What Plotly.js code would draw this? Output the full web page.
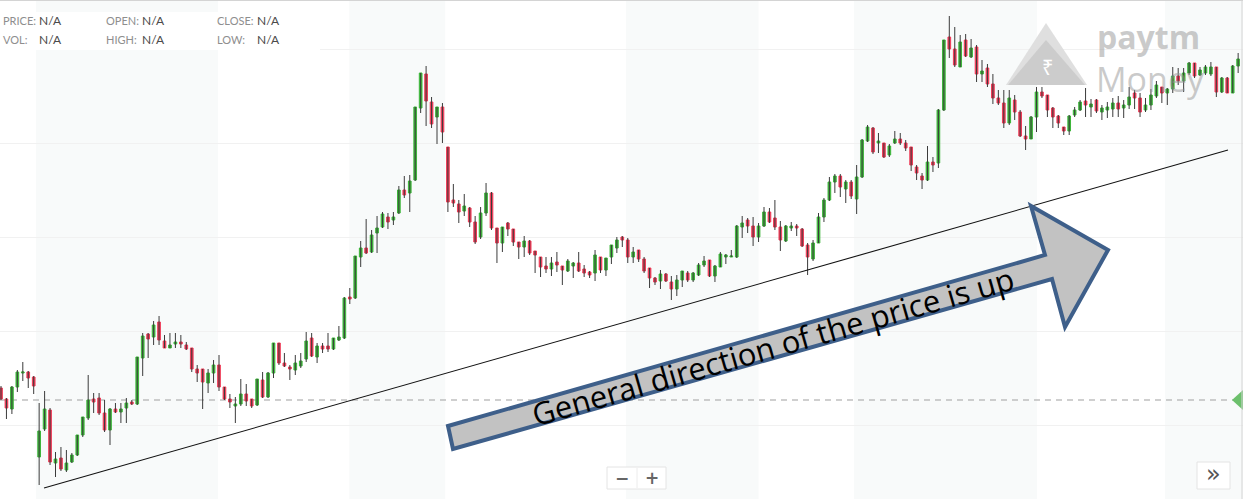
<!DOCTYPE html>
<html>
<head>
<meta charset="utf-8">
<script src="https://cdn.plot.ly/plotly-3.0.1.min.js"></script>
<style>
html,body{margin:0;padding:0;background:#fff;overflow:hidden}
#chart{width:1243px;height:499px}
</style>
</head>
<body>
<div id="chart"></div>
<script>
// ---- Data (price in chart points, one candle per session) ----
const openP = [
112,101,91,113,127,128,123,43,71,90,
37,42,30,38,45,65,82,101,102,87,
70,91,88,92,98,96,142,166,163,178,
159,152,156,158,155,152,131,131,117,127,
135,113,101,94,96,106,101,95,120,103,
127,157,137,133,130,134,141,162,143,154,
154,151,160,162,203,202,243,252,248,267,
273,283,280,287,310,307,320,392,426,398,
383,393,353,300,296,289,292,278,263,287,
307,272,257,277,271,258,253,259,249,243,
234,231,238,234,229,234,237,231,228,227,
243,230,243,252,263,260,243,250,241,232,
222,219,226,218,211,220,227,220,225,235,
240,224,233,243,243,243,273,280,274,263,
274,288,282,273,259,272,274,271,255,241,
257,283,300,318,324,311,318,301,323,359,
372,357,357,345,357,361,357,353,333,324,
320,338,337,390,463,451,433,460,443,453,
426,432,416,402,397,377,400,388,364,361,
383,408,405,392,384,373,369,385,390,399,
393,400,388,390,391,397,392,395,407,402,
390,395,404,413,407,411,424,419,427,437,
425,427,426,433,408,422,407,434
];
const highP = [
114,102,114,130,138,129,124,97,109,92,
48,53,50,47,65,83,125,107,107,100,
92,97,97,102,100,143,167,167,179,184,
165,167,167,165,158,152,135,131,131,140,
145,113,106,103,121,116,101,121,128,128,
157,157,147,135,145,147,168,167,157,157,
167,162,174,203,212,244,259,281,270,284,
288,287,288,314,324,325,393,427,434,403,
393,397,353,316,300,306,293,284,293,317,
308,272,273,278,271,258,264,260,249,243,
243,243,248,234,241,238,248,235,229,250,
243,242,255,263,264,262,253,250,243,232,
223,230,227,224,225,229,229,228,237,244,
240,235,248,246,250,275,284,282,283,277,
293,292,300,279,275,278,276,272,257,260,
287,302,323,326,326,320,320,335,361,375,
373,367,357,356,369,367,360,353,335,327,
354,343,391,460,484,473,465,466,461,455,
440,436,426,410,410,410,405,390,374,384,
413,413,405,393,385,373,385,393,400,412,
401,401,395,398,402,404,400,413,410,407,
402,411,419,413,412,433,432,432,438,437,
433,435,438,433,423,423,435,447
];
const lowP = [
100,81,86,108,119,112,106,15,69,35,
23,29,28,37,44,63,80,87,85,68,
55,87,77,77,95,95,124,142,155,155,
152,152,152,152,150,128,118,91,107,117,
109,100,92,77,94,94,92,94,102,102,
122,135,133,120,125,132,138,143,137,147,
148,150,159,161,196,201,233,246,247,247,
272,271,275,286,302,288,319,387,374,372,
356,357,288,293,277,284,273,256,261,284,
270,237,248,264,254,241,243,245,227,223,
227,224,228,215,228,222,228,223,222,219,
227,224,236,247,253,237,237,238,227,212,
215,211,218,200,204,213,218,218,224,233,
223,218,233,236,243,242,262,267,254,258,
273,277,270,249,258,269,264,253,225,239,
257,278,299,307,303,297,301,286,322,358,
346,347,342,343,356,355,349,329,320,311,
319,328,332,389,442,433,433,443,442,418,
418,413,396,395,372,375,380,363,350,361,
368,402,383,372,372,365,365,383,389,383,
383,387,380,382,383,383,382,391,391,383,
388,390,402,397,395,407,415,408,425,422,
424,425,424,403,407,407,407,427
];
const closeP = [
101,92,113,128,128,122,114,69,91,38,
41,31,37,45,65,83,100,98,87,70,
91,88,91,97,96,143,164,161,175,160,
152,155,158,156,151,131,127,118,127,135,
113,101,98,96,106,99,94,121,103,127,
157,137,134,131,137,139,159,144,154,151,
151,162,163,202,201,244,252,247,265,272,
286,278,283,310,305,319,393,427,399,376,
393,368,298,297,288,294,278,258,287,307,
272,257,273,271,258,253,259,247,245,233,
231,237,235,230,239,237,229,227,225,245,
230,242,255,260,260,243,248,241,229,222,
218,226,219,211,220,229,220,227,235,239,
224,234,246,245,244,274,277,274,263,274,
288,278,273,260,274,274,272,254,243,257,
283,300,318,324,313,318,304,323,360,373,
348,359,343,354,361,357,352,335,327,320,
338,335,390,460,451,435,458,444,452,426,
429,416,402,397,377,402,388,364,361,383,
408,404,390,383,377,369,384,390,398,395,
396,389,392,393,397,391,395,403,402,388,
395,405,415,407,411,424,419,427,437,424,
430,433,433,408,422,407,434,441
];
const session = openP.map((_, i) => i + 1);
const refLevel = 100;                      // dashed reference price
const periodBands = [[7.42, 40.8], [64.9, 82.5], [115.7, 140.0], [157.5, 191.1], [214.6, 240]];
const infoRows = [
  [["PRICE:", "N/A"], ["OPEN: ", "N/A"], ["CLOSE:", "N/A"]],
  [["VOL:", "N/A"], ["HIGH: ", "N/A"], ["LOW:", "N/A"]]
];
const arrowLabel = "General direction of the price is up";

// ---- Styling / geometry ----
const W = 1243, H = 499;
const px = v => v / W;
const py = v => 1 - v / H;
const GREEN = '#3db53a', RED = '#ee3a56';

// wick trace (dark) built from high/low
const wx = [], wy = [];
session.forEach((s, i) => { wx.push(s, s, null); wy.push(lowP[i], highP[i], null); });
const wicks = {
  type: 'scatter', mode: 'lines', x: wx, y: wy,
  line: {color: '#3b3b3b', width: 1}, hoverinfo: 'skip', showlegend: false
};
const bodies = {
  type: 'candlestick', x: session,
  open: openP, close: closeP,
  high: openP.map((o, i) => Math.max(o, closeP[i])),
  low: openP.map((o, i) => Math.min(o, closeP[i])),
  increasing: {line: {color: GREEN, width: 1}, fillcolor: GREEN},
  decreasing: {line: {color: RED, width: 1}, fillcolor: RED},
  hoverinfo: 'skip', showlegend: false
};

function poly(pts) {
  return 'M' + pts.map(p => px(p[0]) + ',' + py(p[1])).join(' L') + ' Z';
}

const shapes = [];
periodBands.forEach(b => shapes.push({
  type: 'rect', xref: 'x', yref: 'paper', x0: b[0], x1: b[1], y0: 0, y1: 1,
  fillcolor: '#f8fafa', line: {width: 0}, layer: 'below'
}));
shapes.push({type: 'line', xref: 'paper', yref: 'y', x0: 0, x1: 1, y0: refLevel, y1: refLevel,
  line: {color: '#a0a0a0', width: 1.2, dash: '6px,5px'}, layer: 'below'});
// watermark triangles
shapes.push({type: 'path', xref: 'paper', yref: 'paper', path: poly([[1046, 23], [1087, 85], [1006, 85]]),
  fillcolor: '#dcdcdc', line: {width: 0}, opacity: 0.9});
shapes.push({type: 'path', xref: 'paper', yref: 'paper', path: poly([[1046, 40], [1085, 85], [1008, 85]]),
  fillcolor: '#cacaca', line: {width: 0}, opacity: 0.9});
// info panel
shapes.push({type: 'rect', xref: 'paper', yref: 'paper', x0: 0, x1: px(320), y0: py(50), y1: py(12),
  fillcolor: '#ffffff', line: {width: 0}});
// trend line
shapes.push({type: 'line', xref: 'paper', yref: 'paper', x0: px(44), y0: py(488), x1: px(1228), y1: py(150),
  line: {color: '#111111', width: 1.1}});
// arrow
shapes.push({type: 'path', xref: 'paper', yref: 'paper',
  path: poly([[448, 426], [1045, 255], [1031, 206], [1108, 250], [1065, 327], [1052, 279], [453, 449]]),
  fillcolor: '#c2c2c2', line: {color: '#3e5f8a', width: 4}});
// reference marker diamond at right edge
shapes.push({type: 'path', xref: 'paper', yref: 'y',
  path: `M${1 - px(11)},${refLevel} L1,${refLevel + 10} L${1 + px(11)},${refLevel} L1,${refLevel - 10} Z`,
  fillcolor: '#6cc06c', line: {width: 0}});
// borders
shapes.push({type: 'line', xref: 'paper', yref: 'paper', x0: 0, x1: 1, y0: py(0.5), y1: py(0.5),
  line: {color: '#d4d4d4', width: 1}});
shapes.push({type: 'line', xref: 'paper', yref: 'paper', x0: px(1242), x1: px(1242), y0: 0, y1: 1,
  line: {color: '#d4d4d4', width: 1}});
// zoom buttons
shapes.push({type: 'rect', xref: 'paper', yref: 'paper', x0: px(607), x1: px(666), y0: py(489), y1: py(467),
  fillcolor: '#ffffff', line: {color: '#e4e4e4', width: 1}});
shapes.push({type: 'line', xref: 'paper', yref: 'paper', x0: px(637), x1: px(637), y0: py(488), y1: py(468),
  line: {color: '#ececec', width: 1}});
shapes.push({type: 'rect', xref: 'paper', yref: 'paper', x0: px(1197), x1: px(1230), y0: py(489), y1: py(462),
  fillcolor: '#ffffff', line: {color: '#e4e4e4', width: 1}});

const annotations = [];
const colX = [[1, 37], [104, 140], [215, 255]];
infoRows.forEach((row, r) => row.forEach((cell, c) => {
  const yy = py(r === 0 ? 20 : 40);
  annotations.push({xref: 'paper', yref: 'paper', x: px(colX[c][0]), y: yy, xanchor: 'left', yanchor: 'middle',
    text: cell[0], showarrow: false, font: {family: 'Lato, Noto Sans, sans-serif', size: 11, color: '#8e8e8e'}});
  annotations.push({xref: 'paper', yref: 'paper', x: px(colX[c][1]), y: yy, xanchor: 'left', yanchor: 'middle',
    text: cell[1], showarrow: false, font: {family: 'Lato, Noto Sans, sans-serif', size: 12, color: '#4a4a4a'}});
}));
annotations.push({xref: 'paper', yref: 'paper', x: px(773), y: py(346), xanchor: 'center', yanchor: 'middle',
  text: arrowLabel, textangle: -16, showarrow: false,
  font: {family: 'Open Sans, sans-serif', size: 31, color: '#000000'}});
annotations.push({xref: 'paper', yref: 'paper', x: px(1047), y: py(67), xanchor: 'center', yanchor: 'middle',
  text: '₹', showarrow: false, font: {family: 'Noto Sans, DejaVu Sans', size: 20, color: '#ffffff'}});
annotations.push({xref: 'paper', yref: 'paper', x: px(1095), y: py(37), xanchor: 'left', yanchor: 'middle',
  text: 'paytm', showarrow: false, font: {family: 'Open Sans, sans-serif', size: 32, weight: 700, color: 'rgba(150,150,150,0.5)'}});
annotations.push({xref: 'paper', yref: 'paper', x: px(1094), y: py(79), xanchor: 'left', yanchor: 'middle',
  text: 'Money', showarrow: false, font: {family: 'Open Sans, sans-serif', size: 34, color: 'rgba(150,150,150,0.5)'}});
annotations.push({xref: 'paper', yref: 'paper', x: px(622), y: py(478), xanchor: 'center', yanchor: 'middle',
  text: '−', showarrow: false, font: {family: 'DejaVu Sans', size: 17, weight: 700, color: '#666666'}});
annotations.push({xref: 'paper', yref: 'paper', x: px(652), y: py(478), xanchor: 'center', yanchor: 'middle',
  text: '+', showarrow: false, font: {family: 'DejaVu Sans', size: 17, weight: 700, color: '#666666'}});
annotations.push({xref: 'paper', yref: 'paper', x: px(1213.5), y: py(474), xanchor: 'center', yanchor: 'middle',
  text: '»', showarrow: false, font: {family: 'DejaVu Sans', size: 24, color: '#555555'}});

const layout = {
  width: W, height: H,
  margin: {l: 0, r: 0, t: 0, b: 0, pad: 0},
  paper_bgcolor: '#ffffff', plot_bgcolor: '#ffffff',
  showlegend: false, hovermode: false,
  xaxis: {range: [0.8165, 228.89], showgrid: false, zeroline: false, showticklabels: false,
    showline: false, ticks: '', rangeslider: {visible: false}, fixedrange: true},
  yaxis: {range: [1, 500], tick0: 75, dtick: 94, showgrid: true, gridcolor: '#f1f1f1', gridwidth: 1,
    zeroline: false, showticklabels: false, showline: false, ticks: '', fixedrange: true},
  shapes: shapes,
  annotations: annotations
};

Plotly.newPlot('chart', [wicks, bodies], layout, {staticPlot: true, displayModeBar: false});
</script>
</body>
</html>
